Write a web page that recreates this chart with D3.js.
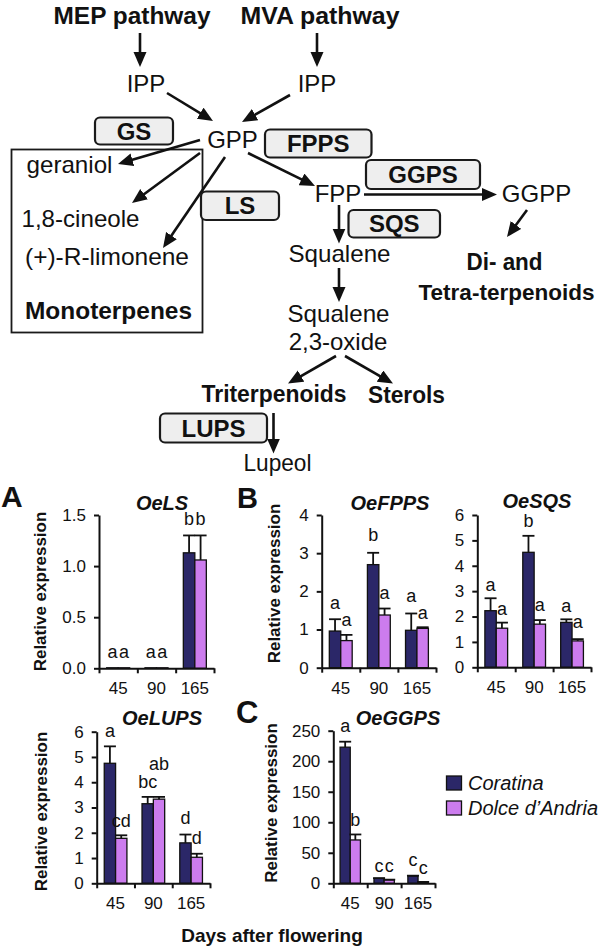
<!DOCTYPE html>
<html><head><meta charset="utf-8">
<script src="https://cdn.jsdelivr.net/npm/d3@7"></script>
<style>
body{margin:0;background:#fff}
svg{display:block}
text{font-family:"Liberation Sans",Arial,Helvetica,sans-serif;fill:#111}
</style>
</head><body>
<svg id="c" width="600" height="949"></svg>
<script>
// ---------------- DATA ----------------
const days = ["45", "90", "165"];
const cultivars = ["Coratina", "Dolce d\u2019Andria"];

// OeLS
const lsCoratina = [0.005, 0.005, 1.13];
const lsCoratinaSE = [0, 0, 0.17];
const lsDolce = [0.005, 0.005, 1.06];
const lsDolceSE = [0, 0, 0.24];
const lsLettersCoratina = ["a", "a", "b"];
const lsLettersDolce = ["a", "a", "b"];
const lsLetterAtCoratina = [0.1, 0.1, 1.40];
const lsLetterAtDolce = [0.1, 0.1, 1.40];
const lsTicks = [0, 0.5, 1.0, 1.5];

// OeFPPS
const fppsCoratina = [0.96, 2.70, 0.98];
const fppsCoratinaSE = [0.31, 0.31, 0.44];
const fppsDolce = [0.71, 1.38, 1.03];
const fppsDolceSE = [0.15, 0.17, 0.03];
const fppsLettersCoratina = ["a", "b", "a"];
const fppsLettersDolce = ["a", "a", "a"];
const fppsLetterAtCoratina = [1.55, 3.32, 1.73];
const fppsLetterAtDolce = [1.10, 1.80, 1.27];
const fppsTicks = [0, 1, 2, 3, 4];

// OeSQS
const sqsCoratina = [2.23, 4.53, 1.77];
const sqsCoratinaSE = [0.49, 0.65, 0.12];
const sqsDolce = [1.54, 1.70, 1.04];
const sqsDolceSE = [0.22, 0.16, 0.07];
const sqsLettersCoratina = ["a", "b", "a"];
const sqsLettersDolce = ["a", "a", "a"];
const sqsLetterAtCoratina = [3.02, 5.52, 2.19];
const sqsLetterAtDolce = [2.06, 2.23, 1.54];
const sqsTicks = [0, 1, 2, 3, 4, 5, 6];

// OeLUPS
const lupsCoratina = [4.75, 3.15, 1.60];
const lupsCoratinaSE = [0.67, 0.27, 0.33];
const lupsDolce = [1.78, 3.33, 1.03];
const lupsDolceSE = [0.12, 0.09, 0.14];
const lupsLettersCoratina = ["a", "bc", "d"];
const lupsLettersDolce = ["cd", "ab", "d"];
const lupsLetterAtCoratina = [5.80, 3.78, 2.35];
const lupsLetterAtDolce = [2.24, 4.48, 1.56];
const lupsTicks = [0, 1, 2, 3, 4, 5, 6];

// OeGGPS
const ggpsCoratina = [223, 8, 12];
const ggpsCoratinaSE = [9, 0.5, 0.5];
const ggpsDolce = [71, 5.5, 2];
const ggpsDolceSE = [9, 0.5, 0.3];
const ggpsLettersCoratina = ["a", "c", "c"];
const ggpsLettersDolce = ["b", "c", "c"];
const ggpsLetterAtCoratina = [248.5, 19, 28];
const ggpsLetterAtDolce = [94, 19, 15];
const ggpsTicks = [0, 50, 100, 150, 200, 250];

// ---------------- STYLE / LAYOUT ----------------
const colors = ["#2b2768", "#cc7cee"];
const svg = d3.select("#c");

const defs = svg.append("defs");
defs.append("marker").attr("id", "ah")
  .attr("markerUnits", "userSpaceOnUse")
  .attr("markerWidth", 16).attr("markerHeight", 14)
  .attr("refX", 9).attr("refY", 6.5).attr("orient", "auto")
  .append("path").attr("d", "M0,0 L15,6.5 L0,13 Z").attr("fill", "#111");

// ---------------- PATHWAY DIAGRAM ----------------
const dg = svg.append("g");
function txt(s, x, y, opt = {}) {
  const t = dg.append("text").attr("x", x).attr("y", y).text(s)
    .attr("font-size", opt.size || 24)
    .attr("font-weight", opt.bold ? "bold" : "normal")
    .attr("text-anchor", opt.anchor || "middle");
  if (opt.len) t.attr("textLength", opt.len).attr("lengthAdjust", "spacingAndGlyphs");
  return t;
}
function arrow(x1, y1, x2, y2) {
  const dx = x2 - x1, dy = y2 - y1, L = Math.hypot(dx, dy), s = 6 / L;
  dg.append("line").attr("x1", x1).attr("y1", y1)
    .attr("x2", x2 - dx * s).attr("y2", y2 - dy * s)
    .attr("stroke", "#111").attr("stroke-width", 2.6)
    .attr("marker-end", "url(#ah)");
}
function enzyme(label, x, y, w, h) {
  dg.append("rect").attr("x", x).attr("y", y).attr("width", w).attr("height", h)
    .attr("rx", 5).attr("fill", "#eeeeee").attr("stroke", "#1a1a1a").attr("stroke-width", 2.2);
  txt(label, x + w / 2, y + h / 2 + 8.5, {bold: true, size: 24});
}

txt("MEP pathway", 132, 24, {bold: true, len: 157});
txt("MVA pathway", 320, 24, {bold: true, len: 159});
arrow(140, 33, 140, 67);
arrow(317, 33, 317, 67);
txt("IPP", 146, 92);
txt("IPP", 317, 92);
arrow(167, 93, 213, 121);
arrow(290, 95, 242, 122);
txt("GPP", 232.5, 147.5);
enzyme("GS", 95, 117.5, 78, 27);

dg.append("rect").attr("x", 11.5).attr("y", 149.5).attr("width", 191).attr("height", 183)
  .attr("fill", "none").attr("stroke", "#1a1a1a").attr("stroke-width", 1.8);
txt("geraniol", 26.5, 172.5, {anchor: "start", len: 86});
txt("1,8-cineole", 21.5, 226.5, {anchor: "start", len: 118});
txt("(+)-R-limonene", 25, 264.5, {anchor: "start", len: 164});
txt("Monoterpenes", 25, 318.5, {anchor: "start", bold: true, len: 167});
arrow(200, 140, 118, 164);
arrow(200, 153, 132, 203);
arrow(225, 157, 163, 248);

enzyme("LS", 201, 191.5, 78, 28.5);
arrow(248, 153, 315, 186);
enzyme("FPPS", 265, 129.5, 106.5, 28);
txt("FPP", 338, 202);
enzyme("GGPS", 366, 160, 114, 29);
arrow(364, 194.5, 497, 194.5);
txt("GGPP", 536.5, 202);
arrow(527, 210, 507, 237);
txt("Di- and", 504.5, 270, {bold: true, len: 76});
txt("Tetra-terpenoids", 506.5, 300, {bold: true, size: 22, len: 176});

arrow(339, 205, 339, 243.5);
enzyme("SQS", 348.5, 210, 91.5, 27.5);
txt("Squalene", 339.5, 262, {len: 102});
arrow(339, 268, 339, 302);
txt("Squalene", 338.5, 322, {len: 102});
txt("2,3-oxide", 338, 350);
arrow(336, 356, 288, 383.5);
arrow(345, 356, 393, 383.5);
txt("Triterpenoids", 274, 402, {bold: true, len: 145});
txt("Sterols", 406.5, 403, {bold: true, len: 77});
enzyme("LUPS", 160, 413.5, 107, 29);
arrow(273.5, 413, 273.5, 453.5);
txt("Lupeol", 277.5, 471, {len: 68});

// ---------------- BAR PANELS ----------------
const panels = [
  {title: "OeLS", cor: lsCoratina, corSE: lsCoratinaSE, dol: lsDolce, dolSE: lsDolceSE,
   lc: lsLettersCoratina, ld: lsLettersDolce, lac: lsLetterAtCoratina, lad: lsLetterAtDolce,
   ticks: lsTicks, fmt: d3.format(".1f"),
   x0: 99, x1: 214, yTop: 515, yBot: 668.3, titleX: 162, titleY: 510, ylab: {x: 46, y: 591.5}},
  {title: "OeFPPS", cor: fppsCoratina, corSE: fppsCoratinaSE, dol: fppsDolce, dolSE: fppsDolceSE,
   lc: fppsLettersCoratina, ld: fppsLettersDolce, lac: fppsLetterAtCoratina, lad: fppsLetterAtDolce,
   ticks: fppsTicks, fmt: d3.format("d"),
   x0: 321.7, x1: 436, yTop: 515, yBot: 667.7, titleX: 390, titleY: 510, ylab: {x: 280, y: 583.5}},
  {title: "OeSQS", cor: sqsCoratina, corSE: sqsCoratinaSE, dol: sqsDolce, dolSE: sqsDolceSE,
   lc: sqsLettersCoratina, ld: sqsLettersDolce, lac: sqsLetterAtCoratina, lad: sqsLetterAtDolce,
   ticks: sqsTicks, fmt: d3.format("d"),
   x0: 477.3, x1: 591, yTop: 515, yBot: 667.3, titleX: 537, titleY: 507.5, ylab: null},
  {title: "OeLUPS", cor: lupsCoratina, corSE: lupsCoratinaSE, dol: lupsDolce, dolSE: lupsDolceSE,
   lc: lupsLettersCoratina, ld: lupsLettersDolce, lac: lupsLetterAtCoratina, lad: lupsLetterAtDolce,
   ticks: lupsTicks, fmt: d3.format("d"),
   x0: 96.7, x1: 210, yTop: 731.7, yBot: 883.3, titleX: 162, titleY: 725, ylab: {x: 47, y: 811.5}},
  {title: "OeGGPS", cor: ggpsCoratina, corSE: ggpsCoratinaSE, dol: ggpsDolce, dolSE: ggpsDolceSE,
   lc: ggpsLettersCoratina, ld: ggpsLettersDolce, lac: ggpsLetterAtCoratina, lad: ggpsLetterAtDolce,
   ticks: ggpsTicks, fmt: d3.format("d"),
   x0: 333.3, x1: 435, yTop: 730.7, yBot: 883.3, titleX: 398, titleY: 725, ylab: {x: 277, y: 803}}
];

panels.forEach(p => {
  const g = svg.append("g");
  const ymax = p.ticks[p.ticks.length - 1];
  const y = d3.scaleLinear().domain([0, ymax]).range([p.yBot, p.yTop]);
  const xb = d3.scaleBand().domain(days).range([p.x0, p.x1]).paddingInner(0.4).paddingOuter(0.2);
  const xs = d3.scaleBand().domain(cultivars).range([0, xb.bandwidth()]);
  const xt = d3.scaleLinear().domain([0, days.length]).range([p.x0, p.x1]);

  const rows = [];
  days.forEach((d, i) => {
    rows.push({day: d, cv: cultivars[0], v: p.cor[i], se: p.corSE[i], lt: p.lc[i], la: p.lac[i], c: colors[0]});
    rows.push({day: d, cv: cultivars[1], v: p.dol[i], se: p.dolSE[i], lt: p.ld[i], la: p.lad[i], c: colors[1]});
  });
  const cx = r => xb(r.day) + xs(r.cv) + xs.bandwidth() / 2;

  // bars
  g.selectAll("rect.bar").data(rows).join("rect").attr("class", "bar")
    .attr("x", r => xb(r.day) + xs(r.cv)).attr("width", xs.bandwidth())
    .attr("y", r => y(r.v)).attr("height", r => y(0) - y(r.v))
    .attr("fill", r => r.c).attr("stroke", "#111").attr("stroke-width", 1.3);

  // error bars
  const eb = rows.filter(r => r.se > 0);
  g.selectAll("line.ev").data(eb).join("line")
    .attr("x1", cx).attr("x2", cx).attr("y1", r => y(r.v)).attr("y2", r => y(r.v + r.se))
    .attr("stroke", "#111").attr("stroke-width", 1.8);
  g.selectAll("line.ec").data(eb).join("line")
    .attr("x1", r => cx(r) - 6).attr("x2", r => cx(r) + 6)
    .attr("y1", r => y(r.v + r.se)).attr("y2", r => y(r.v + r.se))
    .attr("stroke", "#111").attr("stroke-width", 1.8);

  // letters
  g.selectAll("text.lt").data(rows).join("text")
    .attr("x", cx).attr("y", r => y(r.la)).attr("text-anchor", "middle")
    .attr("font-size", 18).text(r => r.lt);

  // y axis
  const ya = g.append("g").attr("transform", `translate(${p.x0},0)`)
    .call(d3.axisLeft(y).tickValues(p.ticks).tickFormat(p.fmt).tickSize(5).tickPadding(8).tickSizeOuter(0));
  ya.select(".domain").attr("stroke", "#111").attr("stroke-width", 2);
  ya.selectAll(".tick line").attr("stroke", "#111").attr("stroke-width", 2);
  ya.selectAll(".tick text").attr("font-size", 17).attr("fill", "#111")
    .attr("font-family", "'Liberation Sans',Arial,sans-serif");

  // x axis (boundary ticks)
  const xa = g.append("g").attr("transform", `translate(0,${p.yBot})`)
    .call(d3.axisBottom(xt).tickValues(d3.range(days.length + 1)).tickFormat("").tickSize(5).tickSizeOuter(0));
  xa.select(".domain").attr("stroke", "#111").attr("stroke-width", 2);
  xa.selectAll(".tick line").attr("stroke", "#111").attr("stroke-width", 2);
  g.selectAll("text.xl").data(days).join("text")
    .attr("x", d => xb(d) + xb.bandwidth() / 2).attr("y", p.yBot + 26)
    .attr("text-anchor", "middle").attr("font-size", 17).text(d => d);

  // title
  g.append("text").attr("x", p.titleX).attr("y", p.titleY).attr("text-anchor", "middle")
    .attr("font-size", 20).attr("font-weight", "bold").attr("font-style", "italic").text(p.title);

  if (p.ylab) {
    g.append("text").attr("transform", `translate(${p.ylab.x},${p.ylab.y}) rotate(-90)`)
      .attr("text-anchor", "middle").attr("font-size", 17).attr("font-weight", "bold")
      .text("Relative expression");
  }
});

// panel letters
svg.append("text").attr("x", 1).attr("y", 507).attr("font-size", 30).attr("font-weight", "bold").text("A");
svg.append("text").attr("x", 237).attr("y", 508).attr("font-size", 29).attr("font-weight", "bold").text("B");
svg.append("text").attr("x", 236).attr("y", 723).attr("font-size", 31).attr("font-weight", "bold").text("C");

// common x label
svg.append("text").attr("x", 272).attr("y", 942).attr("text-anchor", "middle")
  .attr("font-size", 19).attr("font-weight", "bold").text("Days after flowering");

// legend
const lg = svg.append("g");
cultivars.forEach((c, i) => {
  lg.append("rect").attr("x", 446.5).attr("y", 776 + i * 25).attr("width", 15).attr("height", 14)
    .attr("fill", colors[i]).attr("stroke", "#111").attr("stroke-width", 1.3);
  lg.append("text").attr("x", 468).attr("y", 790 + i * 24.5).attr("font-size", 20)
    .attr("font-style", "italic").text(c);
});
</script>
</body></html>
